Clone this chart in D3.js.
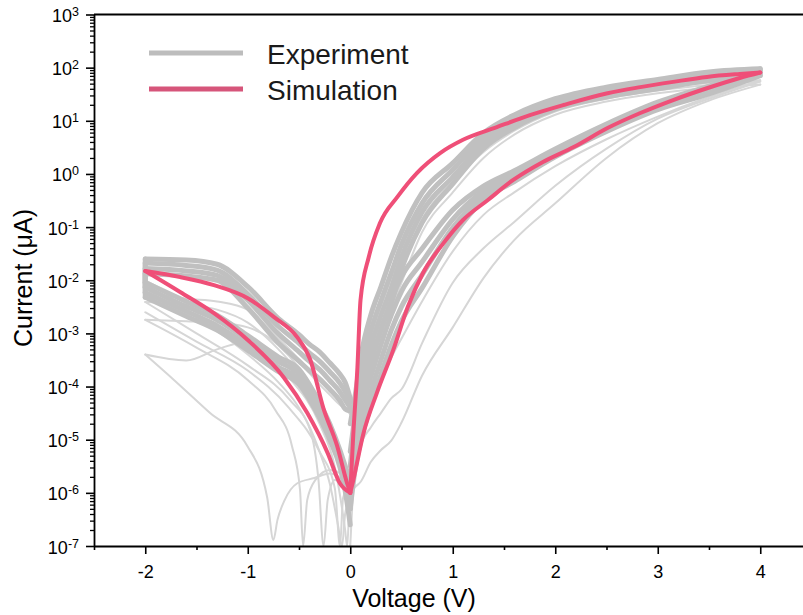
<!DOCTYPE html>
<html>
<head>
<meta charset="utf-8">
<script src="https://cdn.jsdelivr.net/npm/d3@7"></script>
<style>
  html, body { margin: 0; padding: 0; background: #fff; }
  svg { display: block; font-family: "Liberation Sans", Arial, sans-serif; }
</style>
</head>
<body>
<div id="chart"></div>
<script>
// ---------------- DATA ----------------
// Axis ticks
const xMajorTicks = [-2, -1, 0, 1, 2, 3, 4];
const xMinorTicks = [-2.5, -1.5, -0.5, 0.5, 1.5, 2.5, 3.5, 4.5];
const yMajorExp = [-7, -6, -5, -4, -3, -2, -1, 0, 1, 2, 3];

// Voltage grids (V) of the experimental sweeps
const vPos = [0, 0.05, 0.1, 0.2, 0.3, 0.4, 0.5, 0.7, 1.0, 1.3, 1.6, 2.0, 2.5, 3.0, 3.5, 4.0];
const vNeg = [0, -0.05, -0.1, -0.2, -0.3, -0.4, -0.5, -0.7, -1.0, -1.3, -1.6, -2.0];

// Experiment (dense band) – positive forward (set) branch, current in µA on vPos
const bandSetA = [3.2e-6, 2.1e-5, 6.3e-5, 2.9e-4, 1.17e-3, 4.2e-3, 0.0117, 0.039, 0.21, 0.59, 1.15, 2.95, 8.7, 22.4, 45, 95];
const bandSetB = [2e-6, 1.1e-5, 3.3e-5, 1.5e-4, 6.2e-4, 2.2e-3, 6.2e-3, 0.022, 0.14, 0.48, 0.98, 2.6, 7.8, 20, 40, 87];
const bandSetC = [1e-6, 5.8e-6, 1.74e-5, 7.9e-5, 3.2e-4, 1.15e-3, 3.2e-3, 0.0126, 0.098, 0.40, 0.85, 2.4, 7.1, 18.2, 36, 79];
const bandSetD = [5e-7, 3.0e-6, 9.1e-6, 4.2e-5, 1.7e-4, 6.0e-4, 1.7e-3, 7.1e-3, 0.066, 0.32, 0.72, 2.1, 6.3, 16.2, 32, 71];
// Experiment (dense band) – positive return (reset) branch, on vPos
const bandResetA = [2e-5, 7.2e-5, 3.4e-4, 2.2e-3, 7.6e-3, 0.027, 0.08, 0.44, 1.6, 5.9, 12.9, 26, 43, 60, 83, 95];
const bandResetB = [6e-6, 3.4e-5, 1.6e-4, 1.1e-3, 4.1e-3, 0.0138, 0.047, 0.28, 1.2, 4.7, 10.7, 22.4, 37, 52, 74, 87];
const bandResetC = [2e-6, 1.55e-5, 7.2e-5, 5.6e-4, 2.2e-3, 7.2e-3, 0.027, 0.19, 0.87, 3.7, 8.9, 19.5, 32, 46, 65, 79];
const bandResetD = [6e-7, 7.2e-6, 3.4e-5, 2.8e-4, 1.2e-3, 3.7e-3, 0.016, 0.12, 0.65, 3.0, 7.4, 16.6, 28, 40, 57, 71];
// Experiment (dense band) – negative side, upper branch, on vNeg
const bandNegHighA = [6e-5, 1.2e-4, 1.7e-4, 2.8e-4, 4.5e-4, 6.3e-4, 9.5e-4, 1.9e-3, 7.6e-3, 0.020, 0.024, 0.025];
const bandNegHighB = [5e-5, 8.1e-5, 1.15e-4, 1.9e-4, 3.0e-4, 4.3e-4, 6.5e-4, 1.35e-3, 5.5e-3, 0.0155, 0.019, 0.021];
const bandNegHighC = [4e-5, 5.6e-5, 7.9e-5, 1.3e-4, 2.1e-4, 3.0e-4, 4.5e-4, 9.8e-4, 4.2e-3, 0.0123, 0.015, 0.0166];
const bandNegHighD = [3.5e-5, 3.8e-5, 5.4e-5, 8.9e-5, 1.4e-4, 2.0e-4, 3.0e-4, 6.6e-4, 3.0e-3, 0.010, 0.012, 0.0132];
// Experiment (dense band) – negative side, lower branch, on vNeg
const bandNegLowA = [1.6e-6, 3.2e-6, 6.3e-6, 2.0e-5, 5.0e-5, 1.1e-4, 2.1e-4, 3.6e-4, 9.1e-4, 2.2e-3, 4.0e-3, 9.1e-3];
const bandNegLowB = [1.0e-6, 2.2e-6, 4.7e-6, 1.55e-5, 4.1e-5, 8.9e-5, 1.7e-4, 2.95e-4, 7.4e-4, 1.8e-3, 3.2e-3, 7.4e-3];
const bandNegLowC = [5e-7, 1.6e-6, 3.7e-6, 1.23e-5, 3.2e-5, 7.1e-5, 1.35e-4, 2.3e-4, 5.9e-4, 1.4e-3, 2.6e-3, 5.9e-3];
const bandNegLowD = [2.5e-7, 1.1e-6, 3.0e-6, 1.0e-5, 2.6e-5, 5.8e-5, 1.1e-4, 1.9e-4, 4.8e-4, 1.15e-3, 2.1e-3, 4.8e-3];

// Experiment (scattered sweeps) – positive side, on vPos
const outSet1 = [1.0e-6, 1.3e-6, 1.6e-6, 3.8e-6, 6.4e-6, 9.6e-6, 2.1e-5, 1.6e-4, 1.3e-3, 0.011, 0.057, 0.28, 2.0, 9, 24, 48];
const outSet2 = [1.5e-6, 2.8e-6, 7.6e-6, 1.7e-5, 3.2e-5, 6e-5, 8.9e-5, 6.5e-4, 9.0e-3, 0.040, 0.125, 0.6, 3.0, 11, 26, 55];
const outSet3 = [1.2e-6, 4e-6, 1.3e-5, 5e-5, 1.4e-4, 3.5e-4, 8e-4, 4e-3, 0.035, 0.17, 0.45, 1.4, 4.5, 12, 28, 58];
const outReset1 = [8e-7, 5e-6, 2.5e-5, 1.8e-4, 8e-4, 2.8e-3, 9e-3, 0.08, 0.45, 2.0, 5.5, 13, 23, 33, 42, 48];
const outReset2 = [1.5e-6, 1.2e-5, 5e-5, 3.5e-4, 1.5e-3, 5e-3, 0.018, 0.14, 0.7, 2.6, 6.5, 15, 26, 37, 47, 55];
const outReset3 = [3e-6, 2e-5, 1e-4, 8e-4, 3.2e-3, 0.011, 0.04, 0.25, 1.2, 4.2, 9, 19, 31, 42, 52, 58];
// Experiment (scattered sweeps) – negative side, outward branch on vNeg
const outNegOut1 = [2e-6, 3e-6, 5e-6, 1.2e-5, 3e-5, 7e-5, 1.3e-4, 3.5e-4, 7e-4, 5e-4, 3.1e-4, 4e-4];
const outNegOut2 = [1.5e-6, 3e-6, 6e-6, 2e-5, 5e-5, 1.1e-4, 2.2e-4, 6e-4, 1.3e-3, 1.6e-3, 1.7e-3, 1.8e-3];
const outNegOut3 = [1.2e-6, 2.5e-6, 5e-6, 1.6e-5, 4e-5, 9e-5, 1.8e-4, 5e-4, 1.6e-3, 2.8e-3, 3.5e-3, 3.9e-3];
const outNegOut4 = [3e-5, 3.8e-5, 4.5e-5, 7e-5, 1.1e-4, 1.8e-4, 3.2e-4, 8e-4, 2.8e-3, 4.0e-3, 4.5e-3, 6e-3];
// Experiment (scattered sweeps) – negative side, return branch [V, µA] (zero crossings)
const outNegBack1 = [[-2.0, 4.0e-4], [-1.72, 1.33e-4], [-1.37, 3.2e-5], [-1.0, 7.4e-6], [-0.81, 8.1e-7], [-0.75, 1.3e-7], [-0.71, 3.1e-7], [-0.64, 7.3e-7], [-0.52, 1.5e-6], [-0.35, 1.9e-6], [-0.2, 2.3e-6], [0, 1.3e-6]];
const outNegBack2 = [[-2.0, 1.8e-3], [-1.5, 5.4e-4], [-1.0, 1.33e-4], [-0.73, 3.6e-5], [-0.57, 7.8e-6], [-0.49, 1.13e-6], [-0.46, 1.0e-7], [-0.42, 7.3e-7], [-0.34, 1.75e-6], [-0.2, 2.7e-6], [0, 1.75e-6]];
const outNegBack3 = [[-2.0, 3.9e-3], [-1.5, 1.0e-3], [-1.0, 2.5e-4], [-0.59, 5.6e-5], [-0.39, 1.5e-5], [-0.31, 1.75e-6], [-0.26, 1.0e-7], [-0.22, 7.3e-7], [-0.15, 1.75e-6], [0, 1.13e-6]];
const outNegBack4 = [[-2.0, 6e-3], [-1.6, 2.3e-3], [-1.3, 1.1e-3], [-1.0, 4e-4], [-0.7, 1.2e-4], [-0.5, 4e-5], [-0.4, 1.8e-5], [-0.3, 6e-6], [-0.2, 1.5e-6], [-0.12, 2.5e-7], [-0.08, 1e-7], [-0.05, 4e-7], [0, 8e-7]];
const outNegBack5 = [[-2.0, 2.5e-3], [-1.5, 7e-4], [-1.0, 2e-4], [-0.6, 4e-5], [-0.3, 6e-6], [-0.15, 1.2e-6], [-0.1, 1.0e-7], [-0.07, 8e-7], [0, 1.5e-6]];
const outNegBack6 = [[-2.0, 1.0e-2], [-1.5, 3e-3], [-1.0, 8e-4], [-0.6, 1.5e-4], [-0.3, 2e-5], [-0.15, 3e-6], [-0.05, 2e-7], [-0.03, 1.0e-7], [-0.01, 5e-7], [0, 1e-6]];
const outPosDip1 = [[0, 1e-7], [0.02, 6e-7], [0.05, 3e-6], [0.1, 1.5e-5], [0.2, 1.2e-4]];

// Simulation [V, µA]
const simPosHigh = [[0, 1.0e-6], [0.03, 1.3e-5], [0.07, 2.3e-4], [0.1, 4.2e-3], [0.18, 0.027], [0.29, 0.119], [0.46, 0.37], [0.65, 1.04], [0.88, 2.5], [1.10, 4.4], [1.43, 7.6], [1.76, 12.9], [2.08, 19.8], [2.51, 33], [2.83, 43], [3.15, 54], [3.48, 67], [3.80, 76], [4.0, 81]];
const simPosLow = [[0, 1.0e-6], [0.03, 1.75e-6], [0.13, 1.34e-5], [0.26, 7.6e-5], [0.42, 4.9e-4], [0.56, 3.1e-3], [0.71, 0.0137], [0.91, 0.050], [1.10, 0.136], [1.34, 0.32], [1.59, 0.77], [1.88, 1.68], [2.18, 3.2], [2.51, 7.3], [2.83, 14], [3.15, 24.6], [3.48, 41], [3.80, 64], [4.0, 81]];
const simNegLow = [[0, 1e-6], [-0.10, 1.5e-6], [-0.22, 5.6e-6], [-0.42, 3.2e-5], [-0.65, 1.5e-4], [-1.0, 7.5e-4], [-1.33, 2.4e-3], [-1.66, 6.0e-3], [-2.0, 0.0149]];
const simNegHigh = [[0, 1e-6], [-0.03, 1.5e-6], [-0.13, 7.9e-6], [-0.26, 3.8e-5], [-0.39, 3.2e-4], [-0.52, 8.6e-4], [-0.74, 2.0e-3], [-1.0, 4.6e-3], [-1.33, 8.1e-3], [-1.66, 0.0115], [-2.0, 0.0149]];

const legendLabels = ["Experiment", "Simulation"];

// ---------------- CHART ----------------
const W = 803, H = 615;
const svg = d3.select("#chart").append("svg").attr("width", W).attr("height", H);

const x = d3.scaleLinear().domain([-2.5, 4.5]).range([94, 811.5]);
const y = d3.scaleLog().domain([1e-7, 1e3]).range([546, 14.5]);

svg.append("defs").append("clipPath").attr("id", "plotclip")
  .append("rect").attr("x", 94).attr("y", 14.5).attr("width", 720).attr("height", 531.5);

const plot = svg.append("g").attr("clip-path", "url(#plotclip)");

const line = d3.line()
  .x(d => x(d[0])).y(d => y(d[1]))
  .curve(d3.curveMonotoneX);

const zipV = (vs, is) => vs.map((v, i) => [v, is[i]]);
const sorted = pts => pts.slice().sort((a, b) => a[0] - b[0]);

const lightColor = "#d6d6d6", bandColor = "#c0c0c0", simColor = "#ef4f78";

// scattered sweeps
const lightSeries = [
  zipV(vPos, outSet1), zipV(vPos, outSet2), zipV(vPos, outSet3),
  zipV(vPos, outReset1), zipV(vPos, outReset2), zipV(vPos, outReset3),
  zipV(vNeg, outNegOut1), zipV(vNeg, outNegOut2), zipV(vNeg, outNegOut3), zipV(vNeg, outNegOut4),
  outNegBack1, outNegBack2, outNegBack3, outNegBack4, outNegBack5, outNegBack6, outPosDip1
];
plot.append("g").selectAll("path").data(lightSeries).join("path")
  .attr("d", d => line(sorted(d)))
  .attr("fill", "none").attr("stroke", lightColor).attr("stroke-width", 2)
  .attr("stroke-linejoin", "round").attr("stroke-linecap", "round");

// dense band sweeps
const bandSeries = [
  zipV(vPos, bandSetA), zipV(vPos, bandSetB), zipV(vPos, bandSetC), zipV(vPos, bandSetD),
  zipV(vPos, bandResetA), zipV(vPos, bandResetB), zipV(vPos, bandResetC), zipV(vPos, bandResetD),
  zipV(vNeg, bandNegHighA), zipV(vNeg, bandNegHighB), zipV(vNeg, bandNegHighC), zipV(vNeg, bandNegHighD),
  zipV(vNeg, bandNegLowA), zipV(vNeg, bandNegLowB), zipV(vNeg, bandNegLowC), zipV(vNeg, bandNegLowD)
];
plot.append("g").selectAll("path").data(bandSeries).join("path")
  .attr("d", d => line(sorted(d)))
  .attr("fill", "none").attr("stroke", bandColor).attr("stroke-width", 5)
  .attr("stroke-linejoin", "round").attr("stroke-linecap", "round");

// turnaround segments at -2 V join the two negative branches of each band sweep
const turnPairs = [
  [bandNegHighA, bandNegLowA], [bandNegHighB, bandNegLowB],
  [bandNegHighC, bandNegLowC], [bandNegHighD, bandNegLowD]
];
const vEnd = vNeg[vNeg.length - 1];
plot.append("g").selectAll("path").data(turnPairs).join("path")
  .attr("d", d => d3.line().x(p => x(p[0])).y(p => y(p[1]))([[vEnd, d[0][d[0].length - 1]], [vEnd, d[1][d[1].length - 1]]]))
  .attr("fill", "none").attr("stroke", bandColor).attr("stroke-width", 5).attr("stroke-linecap", "round");

// simulation
plot.append("g").selectAll("path").data([simPosHigh, simPosLow, simNegLow, simNegHigh]).join("path")
  .attr("d", d => line(sorted(d)))
  .attr("fill", "none").attr("stroke", simColor).attr("stroke-width", 4)
  .attr("stroke-linejoin", "round").attr("stroke-linecap", "round");

// ---------------- AXES ----------------
const fontFam = '"Liberation Sans", Arial, sans-serif';

const gx = svg.append("g").attr("transform", "translate(0,546)")
  .call(d3.axisBottom(x).tickValues(xMajorTicks).tickSize(8).tickSizeOuter(0).tickFormat(d => String(d)));
gx.select(".domain").attr("stroke", "#000").attr("stroke-width", 1.8);
gx.selectAll(".tick line").attr("stroke", "#000").attr("stroke-width", 1.6);
gx.selectAll(".tick text").attr("y", 32).attr("dy", 0)
  .attr("font-size", 18).attr("font-family", fontFam).attr("fill", "#000");

const gxm = svg.append("g").attr("transform", "translate(0,546)")
  .call(d3.axisBottom(x).tickValues(xMinorTicks).tickSize(4).tickFormat(""));
gxm.select(".domain").remove();
gxm.selectAll(".tick line").attr("stroke", "#000").attr("stroke-width", 1.6);

const yMajor = yMajorExp.map(e => Math.pow(10, e));
const yMinor = [];
for (let e = -7; e < 3; e++) for (let k = 2; k <= 9; k++) yMinor.push(k * Math.pow(10, e));

const gym = svg.append("g").attr("transform", "translate(94,0)")
  .call(d3.axisLeft(y).tickValues(yMinor).tickSize(4).tickFormat(""));
gym.select(".domain").remove();
gym.selectAll(".tick line").attr("stroke", "#000").attr("stroke-width", 1.3);

const gy = svg.append("g").attr("transform", "translate(94,0)")
  .call(d3.axisLeft(y).tickValues(yMajor).tickSize(8).tickSizeOuter(0).tickFormat(""));
gy.select(".domain").attr("stroke", "#000").attr("stroke-width", 1.8);
gy.selectAll(".tick line").attr("stroke", "#000").attr("stroke-width", 1.6);
gy.selectAll(".tick text").each(function(d) {
  const t = d3.select(this);
  const ex = Math.round(Math.log10(d));
  t.text(null).attr("x", -15).attr("y", 7).attr("dy", 0)
    .attr("text-anchor", "end").attr("font-size", 18).attr("font-family", fontFam).attr("fill", "#000");
  t.append("tspan").text("10");
  t.append("tspan").attr("dy", -6).attr("font-size", 12.5).text(String(ex));
});

// top frame
svg.append("line").attr("x1", x(-2.5)).attr("x2", x(4.5)).attr("y1", y(1e3)).attr("y2", y(1e3))
  .attr("stroke", "#000").attr("stroke-width", 1.8);

// axis titles
svg.append("text").attr("x", 414).attr("y", 607).attr("text-anchor", "middle")
  .attr("font-size", 25).attr("font-family", fontFam).attr("fill", "#000").text("Voltage (V)");
svg.append("text").attr("transform", "translate(32,278) rotate(-90)").attr("text-anchor", "middle")
  .attr("font-size", 25).attr("font-family", fontFam).attr("fill", "#000").text("Current (\u03BCA)");

// legend
const legColors = ["#bdbdbd", "#d6557a"];
const leg = svg.append("g");
legendLabels.forEach((lab, i) => {
  const yy = 53 + i * 36;
  leg.append("line").attr("x1", 149).attr("x2", 243).attr("y1", yy).attr("y2", yy)
    .attr("stroke", legColors[i]).attr("stroke-width", 5);
  leg.append("text").attr("x", 267).attr("y", yy + 11).attr("font-size", 28)
    .attr("font-family", fontFam).attr("fill", "#1a1a1a").text(lab);
});
</script>
</body>
</html>
